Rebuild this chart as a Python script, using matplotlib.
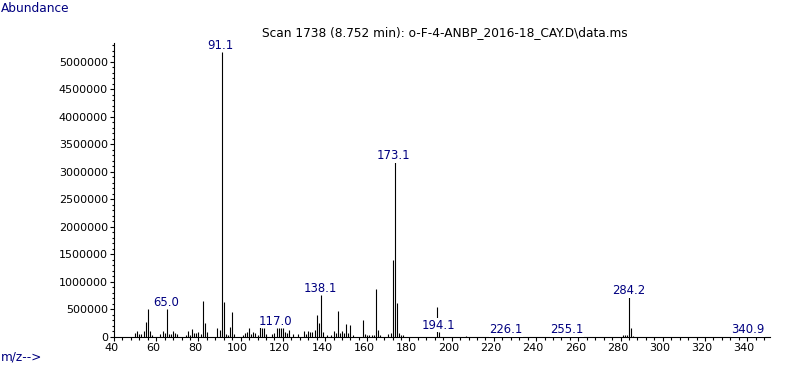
import matplotlib
matplotlib.use('Agg')
import matplotlib.pyplot as plt
import matplotlib.transforms as mtransforms
from matplotlib.ticker import MultipleLocator, StrMethodFormatter

# peak list (m/z, abundance)
mz = [50, 51, 52, 53, 54, 55, 56, 57, 58, 62, 63, 64, 65, 66, 67, 68, 69, 70,
      74, 75, 76, 77, 78, 79, 80, 81, 82, 83, 84, 89, 90, 91, 92, 93, 94, 95,
      96, 97, 101, 102, 103, 104, 105, 106, 107, 108, 109, 110, 111, 112,
      115, 116, 117, 118, 119, 120, 121, 122, 123, 125, 127, 130, 131, 132,
      133, 134, 135, 136, 137, 138, 139, 141, 143, 144, 145, 146, 147, 148,
      149, 150, 151, 152, 153, 158, 159, 160, 161, 162, 163, 164, 165, 166,
      170, 171, 172, 173, 174, 175, 176, 177, 193, 194, 207, 226, 255, 281,
      282, 283, 284, 285, 286, 341]
abundance = [67000, 109000, 60000, 60000, 100000, 279000, 509000, 109000, 40000,
             50000, 109000, 67000, 509000, 55000, 55000, 109000, 70000, 55000,
             40000, 109000, 40000, 145000, 67000, 67000, 85000, 55000, 655000,
             255000, 95000, 164000, 127000, 5190000, 635000, 55000, 40000,
             185000, 450000, 55000, 40000, 67000, 85000, 160000, 50000, 95000,
             67000, 40000, 240000, 170000, 170000, 60000,
             55000, 67000, 170000, 170000, 170000, 170000, 91000, 67000, 127000,
             48000, 60000, 115000, 55000, 115000, 85000, 97000, 127000, 406000,
             261000, 764000, 91000, 30000, 30000, 115000, 67000, 473000, 79000,
             115000, 67000, 242000, 67000, 218000, 30000, 309000, 48000, 30000,
             30000, 30000, 30000, 873000, 127000, 40000, 48000, 67000, 1400000,
             3176000, 624000, 79000, 30000, 30000, 551000, 96000, 20000, 10000,
             10000, 36000, 36000, 36000, 722000, 158000, 20000, 10000]

# labelled peaks: label text and the peak it sits on
label_mz = [65.0, 91.1, 117.0, 138.1, 173.1, 194.1, 226.1, 255.1, 284.2, 340.9]
label_peak = [65, 91, 117, 138, 173, 194, 226, 255, 284, 341]

navy = '#000080'
plt.rcParams['font.family'] = 'DejaVu Sans'
plt.rcParams['font.size'] = 8

fig = plt.figure(figsize=(7.87, 3.67), dpi=100)
ax = fig.add_axes([113.5 / 787, 30 / 367, (770 - 113.5) / 787, (337 - 43) / 367])

ax.vlines(mz, 0, abundance, color='black', linewidth=0.8)

for lm, lp in zip(label_mz, label_peak):
    top = abundance[mz.index(lp)]
    ax.annotate('%.1f' % lm, xy=(lm, top), xytext=(-1, 0), textcoords='offset pixels',
                ha='center', va='bottom', color=navy, fontsize=8.4,
                bbox=dict(facecolor='white', edgecolor='none', pad=0.2))

ax.set_xlim(39.76, 350.8)
ax.set_ylim(0, 5345000)

ax.spines['top'].set_visible(False)
ax.spines['right'].set_visible(False)
ax.spines['left'].set_linewidth(0.8)
ax.spines['bottom'].set_linewidth(0.8)

ax.xaxis.set_major_locator(MultipleLocator(20))
ax.xaxis.set_minor_locator(MultipleLocator(4))
ax.yaxis.set_major_locator(MultipleLocator(500000))
ax.yaxis.set_minor_locator(MultipleLocator(100000))
ax.yaxis.set_major_formatter(StrMethodFormatter('{x:.0f}'))
ax.tick_params(axis='both', which='major', length=3, width=0.8, pad=1.5, colors='black')
ax.tick_params(axis='both', which='minor', length=1.8, width=0.8)
ax.tick_params(axis='y', which='major', pad=1)

# x tick labels sit a few pixels left of their ticks in the original
shift = mtransforms.ScaledTranslation(-3 / 100, 0, fig.dpi_scale_trans)
for lbl in ax.get_xticklabels():
    lbl.set_transform(lbl.get_transform() + shift)

fig.text(445 / 787, 1 - 33 / 367, 'Scan 1738 (8.752 min): o-F-4-ANBP_2016-18_CAY.D\\data.ms',
         ha='center', va='center', fontsize=8.7)
fig.text(0.001, 1 - 8 / 367, 'Abundance', ha='left', va='center', color=navy, fontsize=8.7)
fig.text(0.001, 1 - 357 / 367, 'm/z-->', ha='left', va='center', color=navy, fontsize=8.7)

fig.savefig('out.png', dpi=100)
